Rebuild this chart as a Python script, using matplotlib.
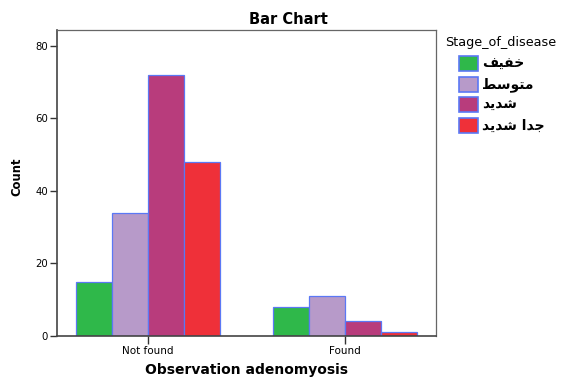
import matplotlib
matplotlib.use("Agg")
import matplotlib.pyplot as plt
import numpy as np
from matplotlib.patches import Rectangle
from matplotlib import font_manager

categories = ["Not found", "Found"]
stages = ["\uFED2\uFEF4\uFED4\uFEA7",            # خفيف
          "\uFEC2\uFEB3\uFEEE\uFE98\uFEE3",      # متوسط
          "\uFEAA\uFEF3\uFEAA\uFEB7",            # شديد
          "\uFEAA\uFEF3\uFEAA\uFEB7 \uFE8D\uFEAA\uFE9F"]  # جدا شديد
counts_mild = [15, 8]
counts_moderate = [34, 11]
counts_severe = [72, 4]
counts_very_severe = [48, 1]
series = [counts_mild, counts_moderate, counts_severe, counts_very_severe]
colors = ["#2fb84a", "#b79ac9", "#b83c7c", "#ef3039"]
edge = "#5b78f5"

cond = [f for f in font_manager.fontManager.ttflist
        if f.name == "DejaVu Sans" and f.stretch == "condensed" and f.weight in ("bold", 700)]
count_kw = dict(fontsize=9.3, fontweight="bold", fontstretch="condensed") if cond \
    else dict(fontsize=8.8, fontweight="bold")

W, H = 588, 386
fig = plt.figure(figsize=(W / 100, H / 100), dpi=100)
ax = fig.add_axes([57 / W, 50 / H, 379 / W, 306 / H])

x = np.arange(len(categories))
w = 0.184
for i, (vals, c) in enumerate(zip(series, colors)):
    ax.bar(x + (i - 1.5) * w, vals, width=w, color=c, edgecolor=edge, linewidth=0.9)

ax.set_xlim(-0.462, 1.462)
ax.set_ylim(0, 84.4)
ax.set_yticks([0, 20, 40, 60, 80])
ax.set_xticks(x)
ax.set_xticklabels(categories)
ax.tick_params(axis="y", labelsize=7.3, length=5, width=1, color="#333333", pad=1.5)
ax.tick_params(axis="x", labelsize=7.5, length=6, width=1, color="#333333", pad=1.5)
for s in ["left", "bottom"]:
    ax.spines[s].set_color("#444444")
    ax.spines[s].set_linewidth(1.2)
for s in ["top", "right"]:
    ax.spines[s].set_color("#666666")
    ax.spines[s].set_linewidth(0.9)

fig.text(288 / W, 1 - 19 / H, "Bar Chart", fontsize=10.5, fontweight="bold",
         ha="center", va="center")
fig.text(17 / W, 1 - 177 / H, "Count", family="DejaVu Sans", rotation=90,
         ha="center", va="center", **count_kw)
ax.set_xlabel("Observation adenomyosis", fontsize=10, fontweight="bold", labelpad=4.5)

# legend
fig.text(445 / W, 1 - 42.5 / H, "Stage_of_disease", fontsize=9.2, ha="left", va="center")
tops = [56, 77, 97.5, 118]
for lab, c, t in zip(stages, colors, tops):
    fig.add_artist(Rectangle((459 / W, 1 - (t + 15) / H), 19 / W, 15 / H,
                             transform=fig.transFigure, facecolor=c,
                             edgecolor=edge, linewidth=1.2))
    fig.text(482 / W, 1 - (t + 7.5) / H, lab, fontsize=10, fontweight="bold",
             family=["DejaVu Sans"], ha="left", va="center")

fig.savefig("out.png", dpi=100)
